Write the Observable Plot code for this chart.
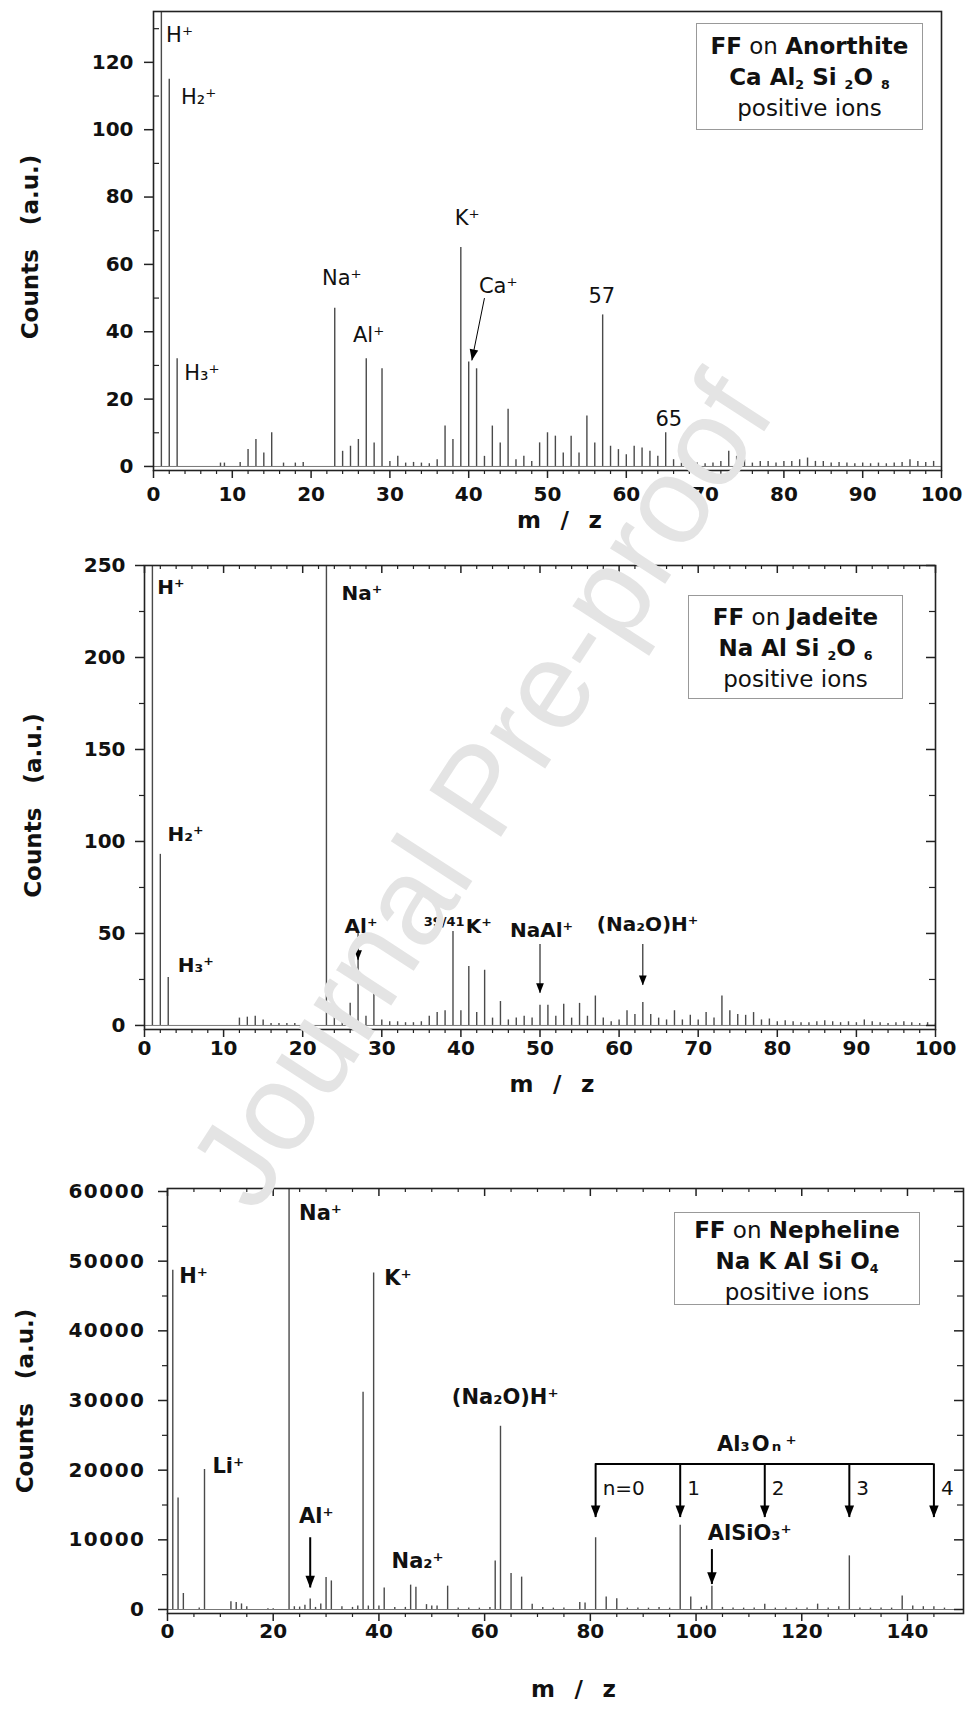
<!DOCTYPE html>
<html>
<head>
<meta charset="utf-8">
<script src="https://cdn.jsdelivr.net/npm/d3@7"></script>
<script src="https://cdn.jsdelivr.net/npm/@observablehq/plot@0.6"></script>
<style>
  body { margin: 0; background: #fff; }
  #wrap { position: relative; width: 966px; height: 1720px; overflow: hidden; background: #fff; font-family: "DejaVu Sans", sans-serif; color: #111; }
  .lg { position: absolute; box-sizing: border-box; border: 1.5px solid #999; text-align: center; font-size: 23px; line-height: 31px; color: #111; }
  .lg sub { font-size: 0.55em; vertical-align: -0.35em; line-height: 0; }
  .wm { position: absolute; white-space: nowrap; font-family: "Liberation Sans", Arial, sans-serif; color: #e4e4e4; text-align: center; pointer-events: none; }
</style>
</head>
<body>
<div id="wrap"></div>
<script>
// ---------------- DATA ----------------
// Panel 1 : FF on Anorthite (positive ions)
const anorthiteMz = [1, 2, 3, 8.5, 9, 11, 12, 13, 14, 15, 16.5, 18, 19,
  23, 24, 25, 26, 27, 28, 29, 30, 31, 32, 33, 34, 35, 36, 37, 38, 39, 40,
  41, 42, 43, 44, 45, 46, 47, 48, 49, 50, 51, 52, 53, 54, 55, 56, 57, 58, 59, 60,
  61, 62, 63, 64, 65, 66, 67, 68, 69, 70, 71, 72, 73, 74, 75, 76, 77, 78, 79, 80,
  81, 82, 83, 84, 85, 86, 87, 88, 89, 90, 91, 92, 93, 94, 95, 96, 97, 98, 99];
const anorthiteCounts = [160, 115, 32, 1, 1, 1.2, 5, 8, 4, 10, 1, 1, 1.2,
  47, 4.5, 6, 8, 32, 7, 29, 1.5, 3, 1, 1.2, 1, 0.8, 2, 12, 8, 65, 31,
  29, 3, 12, 7, 17, 2, 3, 1.5, 7, 10, 9, 4, 9, 4, 15, 7, 45, 6, 5, 3.5,
  6, 5.5, 4.5, 3, 10, 2, 1, 0.8, 1, 0.8, 1, 1.5, 4.5, 3, 2, 1, 1.5, 1.5, 1, 1.5,
  1.5, 2, 2.5, 1.5, 1.5, 1, 1.2, 1, 0.8, 1, 0.8, 1, 0.8, 1, 1.2, 2, 1.5, 1.2, 1.5];

// Panel 2 : FF on Jadeite (positive ions)
const jadeiteMz = [1, 2, 3, 12, 13, 14, 15, 16, 17, 18, 19, 20,
  23, 24, 25, 26, 27, 28, 29, 30, 31, 32, 33, 34, 35, 36, 37, 38, 39, 40,
  41, 42, 43, 44, 45, 46, 47, 48, 49, 50, 51, 52, 53, 54, 55, 56, 57, 58, 59, 60,
  61, 62, 63, 64, 65, 66, 67, 68, 69, 70, 71, 72, 73, 74, 75, 76, 77, 78, 79, 80,
  81, 82, 83, 84, 85, 86, 87, 88, 89, 90, 91, 92, 93, 94, 95, 96, 97, 98, 99, 100];
const jadeiteCounts = [400, 93, 26, 4, 4.5, 5, 3, 1, 1, 1, 1, 1,
  400, 6, 5, 12, 50, 5, 20, 3, 2, 2, 1.5, 1.5, 2, 5, 7, 8, 51, 8,
  32, 7, 30, 4, 13, 3, 4, 5, 4, 11, 11, 5, 11.5, 4, 12, 5, 16, 4, 2, 3,
  8, 6, 12.5, 6, 4, 3, 8, 3, 5.5, 3, 7, 4, 16, 8, 6, 5.5, 7, 3, 3.5, 2,
  2.5, 2, 1.5, 1.5, 2, 2.5, 2, 1.5, 2, 1.5, 3, 2, 1.5, 1, 1.5, 2, 1.5, 1, 1.5, 1];

// Panel 3 : FF on Nepheline (positive ions)
const nephelineMz = [1, 2, 3, 6, 7,
  12, 13, 14, 15, 19, 20,
  23, 24, 25, 26, 27, 28, 29, 30, 31,
  33, 35, 36, 37, 38, 39, 40, 41,
  43, 45, 46, 47, 49, 50, 51, 53,
  55, 57, 59, 61, 62, 63, 65, 67, 69,
  71, 73, 75, 78, 79, 81, 83, 85,
  87, 89, 91, 93, 95, 97, 99,
  101, 102, 103, 105, 107, 109, 111, 113,
  115, 117, 119, 121, 123, 125, 127, 129,
  131, 133, 135, 137, 139, 141, 143, 145, 147];
const nephelineCounts = [48700, 16000, 2300, 200, 20100,
  1100, 1000, 800, 400, 100, 100,
  90000, 400, 350, 600, 1500, 300, 800, 4600, 4100,
  400, 300, 500, 31200, 500, 48300, 500, 3100,
  300, 300, 3500, 3200, 700, 500, 500, 3350,
  200, 200, 200, 300, 6950, 26300, 5150, 4650, 770,
  300, 200, 200, 1000, 930, 10300, 1800, 1540,
  200, 200, 200, 300, 200, 12100, 1800,
  300, 500, 3350, 300, 200, 200, 200, 770,
  200, 200, 200, 200, 770, 200, 400, 7700,
  200, 200, 200, 200, 1950, 500, 400, 400, 200];

// Tick values
const xTicks100 = [0, 10, 20, 30, 40, 50, 60, 70, 80, 90, 100];
const yTicksAnorthite = [0, 20, 40, 60, 80, 100, 120];
const yTicksJadeite = [0, 50, 100, 150, 200, 250];
const xTicksNepheline = [0, 20, 40, 60, 80, 100, 120, 140];
const yTicksNepheline = [0, 10000, 20000, 30000, 40000, 50000, 60000];

// Annotations (positions in data units)
const anorthiteLabels = [
  {mz: 1.6, y: 128, t: "H⁺", anchor: "start"},
  {mz: 3.5, y: 109.6, t: "H₂⁺", anchor: "start"},
  {mz: 3.9, y: 27.8, t: "H₃⁺", anchor: "start"},
  {mz: 23.9, y: 55.8, t: "Na⁺", anchor: "middle"},
  {mz: 27.3, y: 38.9, t: "Al⁺", anchor: "middle"},
  {mz: 39.8, y: 73.7, t: "K⁺", anchor: "middle"},
  {mz: 41.3, y: 53.6, t: "Ca⁺", anchor: "start"},
  {mz: 56.9, y: 50.5, t: "57", anchor: "middle"},
  {mz: 65.4, y: 14, t: "65", anchor: "middle"}
];
const anorthiteArrows = [{x1: 42.0, y1: 50.0, x2: 40.4, y2: 31.5}];

const jadeiteLabels = [
  {mz: 1.6, y: 238, t: "H⁺", anchor: "start"},
  {mz: 24.9, y: 234.5, t: "Na⁺", anchor: "start"},
  {mz: 2.9, y: 103.6, t: "H₂⁺", anchor: "start"},
  {mz: 4.2, y: 32.7, t: "H₃⁺", anchor: "start"},
  {mz: 25.3, y: 53.5, t: "Al⁺", anchor: "start"},
  {mz: 40.6, y: 53.5, t: "K⁺", anchor: "start"},
  {mz: 50.2, y: 51.7, t: "NaAl⁺", anchor: "middle"},
  {mz: 63.6, y: 54.7, t: "(Na₂O)H⁺", anchor: "middle"}
];
const jadeiteIsotope = [{mz: 40.6, y: 56.5, t: "39/41"}];
const jadeiteArrows = [
  {mz: 27, from: 48, to: 35.5},
  {mz: 50, from: 44, to: 17.5},
  {mz: 63, from: 44, to: 21.8}
];

const nephelineLabels = [
  {mz: 24.9, y: 56900, t: "Na⁺", anchor: "start"},
  {mz: 2.2, y: 47900, t: "H⁺", anchor: "start"},
  {mz: 41, y: 47600, t: "K⁺", anchor: "start"},
  {mz: 8.5, y: 20600, t: "Li⁺", anchor: "start"},
  {mz: 24.9, y: 13400, t: "Al⁺", anchor: "start"},
  {mz: 42.4, y: 6950, t: "Na₂⁺", anchor: "start"},
  {mz: 53.8, y: 30400, t: "(Na₂O)H⁺", anchor: "start"},
  {mz: 102.2, y: 10900, t: "AlSiO₃⁺", anchor: "start"},
  {mz: 111.5, y: 23700, t: "Al₃\u200aO\u200aₙ\u2009⁺", anchor: "middle"}
];
const nephelineArrows = [
  {mz: 27, from: 10300, to: 3100},
  {mz: 103, from: 8600, to: 3600}
];
const al3onMz = [81, 97, 113, 129, 145];
const al3onN = ["n=0", "1", "2", "3", "4"];
const al3onBracket = {y: 20900, arrowTip: 13200, labelY: 17400};

// ---------------- DRAWING ----------------
const W = 966;
const FONT = "DejaVu Sans, sans-serif";
const TK = "#222";

const downTri = {
  draw(ctx, size) {
    const k = Math.sqrt(size / 50.27);
    const w = 4.3 * k, h = 11 * k;
    ctx.moveTo(0, 0); ctx.lineTo(-w, -h); ctx.lineTo(w, -h); ctx.closePath();
  }
};

function panel(cfg) {
  const innerW = W - cfg.mL - cfg.mR;
  const innerH = cfg.height - cfg.mT - cfg.mB;
  const spec = cfg.mz.map((m, i) => ({mz: m, h: cfg.counts[i]}));
  const marks = [
    Plot.ruleY([0], {stroke: "#777", strokeWidth: 1}),
    Plot.ruleX(spec, {x: "mz", y1: 0, y2: "h", stroke: "#4a4a4a", strokeWidth: 1.4, clip: true}),
    Plot.frame({stroke: TK, strokeWidth: 1.6}),
    Plot.ruleX(cfg.xMajor, {x: d => d, insetTop: innerH, insetBottom: -8, stroke: TK, strokeWidth: 1.5}),
    Plot.ruleX(cfg.xMinor, {x: d => d, insetTop: innerH, insetBottom: -4, stroke: TK, strokeWidth: 1.2}),
    Plot.ruleY(cfg.yMajor, {y: d => d, insetLeft: -9, insetRight: innerW, stroke: TK, strokeWidth: 1.5}),
    cfg.yMinorIn
      ? Plot.ruleY(cfg.yMinor, {y: d => d, insetLeft: 0, insetRight: innerW - 6, stroke: TK, strokeWidth: 1.2})
      : Plot.ruleY(cfg.yMinor, {y: d => d, insetLeft: -5, insetRight: innerW, stroke: TK, strokeWidth: 1.2})
  ];
  if (cfg.mirror) {
    marks.push(
      Plot.ruleX(cfg.xMajor, {x: d => d, insetTop: 0, insetBottom: innerH - 8, stroke: TK, strokeWidth: 1.5}),
      Plot.ruleX(cfg.xMinor, {x: d => d, insetTop: 0, insetBottom: innerH - 4, stroke: TK, strokeWidth: 1.2}),
      Plot.ruleY(cfg.yMajor, {y: d => d, insetLeft: innerW - 9, insetRight: 0, stroke: TK, strokeWidth: 1.5}),
      Plot.ruleY(cfg.yMinor, {y: d => d, insetLeft: innerW - 6, insetRight: 0, stroke: TK, strokeWidth: 1.2})
    );
  }
  marks.push(
    Plot.axisX({ticks: cfg.xMajor, tickSize: 0, tickPadding: cfg.xPad, fontSize: 20, fontWeight: "bold", label: null, tickFormat: d => String(d)}),
    Plot.axisY({ticks: cfg.yMajor, tickSize: 0, tickPadding: cfg.yPad, fontSize: 20, fontWeight: "bold", label: null, tickFormat: d => String(d)}),
    Plot.text(["Counts\u00a0\u00a0\u00a0(a.u.)"], {text: d => d, frameAnchor: "left", textAnchor: "middle", lineAnchor: "middle", rotate: -90, dx: cfg.cx - cfg.mL, dy: cfg.cyOff || 0, fontSize: 23, fontWeight: "bold"}),
    Plot.text(["m\u2002\u00a0/\u2002\u00a0z"], {text: d => d, frameAnchor: "bottom", dy: cfg.mzDy, dx: cfg.mzDx, fontSize: 23, fontWeight: "bold"}),
    ...cfg.extra
  );
  const svg = Plot.plot({
    width: W, height: cfg.height,
    marginTop: cfg.mT, marginBottom: cfg.mB, marginLeft: cfg.mL, marginRight: cfg.mR,
    x: {domain: cfg.xDomain},
    y: {domain: cfg.yDomain},
    style: {fontFamily: FONT, color: "#111", background: "none", overflow: "visible"},
    marks
  });
  svg.style.position = "absolute";
  svg.style.left = "0px";
  svg.style.top = cfg.top + "px";
  if (cfg.yLetterSpacing) {
    svg.querySelectorAll('g[aria-label="y-axis tick label"] text').forEach(t => t.style.letterSpacing = cfg.yLetterSpacing);
  }
  return svg;
}

function labelMarks(list, weight, size) {
  return ["start", "middle"].map(a =>
    Plot.text(list.filter(d => d.anchor === a), {x: "mz", y: "y", text: "t", textAnchor: a, fontSize: size, fontWeight: weight, fill: "#111"})
  );
}
function arrowMarks(list, sw, r) {
  return [
    Plot.ruleX(list, {x: "mz", y1: "from", y2: "to", stroke: "#000", strokeWidth: sw}),
    Plot.dot(list, {x: "mz", y: "to", symbol: downTri, r, fill: "#000", stroke: "none"})
  ];
}

const wrap = document.getElementById("wrap");

// Panel 1
wrap.appendChild(panel({
  top: 0, height: 530, mT: 11, mB: 60, mL: 153, mR: 25,
  xDomain: [0, 100], yDomain: [-1.2, 135.1],
  mz: anorthiteMz, counts: anorthiteCounts,
  xMajor: xTicks100, xMinor: d3.range(2, 100, 2).filter(v => v % 10 !== 0),
  yMajor: yTicksAnorthite, yMinor: [10, 30, 50, 70, 90, 110, 130], yMinorIn: true,
  mirror: false, xPad: 16, yPad: 20, cx: 30, cyOff: 6, mzDy: 57, mzDx: 12,
  extra: [
    ...labelMarks(anorthiteLabels, "normal", 21),
    Plot.link(anorthiteArrows, {x1: "x1", y1: "y1", x2: "x2", y2: "y2", stroke: "#000", strokeWidth: 1}),
    Plot.dot(anorthiteArrows, {x: "x2", y: "y2", symbol: downTri, r: 4, rotate: 11, fill: "#000", stroke: "none"})
  ]
}));

// Panel 2
wrap.appendChild(panel({
  top: 540, height: 560, mT: 25, mB: 71, mL: 144, mR: 31,
  xDomain: [0, 100], yDomain: [-2.2, 250],
  mz: jadeiteMz, counts: jadeiteCounts,
  xMajor: xTicks100, xMinor: d3.range(2, 100, 2).filter(v => v % 10 !== 0),
  yMajor: yTicksJadeite, yMinor: [25, 75, 125, 175, 225],
  mirror: true, xPad: 11, yPad: 19, cx: 33, cyOff: 8, mzDy: 62, mzDx: 12,
  extra: [
    ...labelMarks(jadeiteLabels, "bold", 20),
    Plot.text(jadeiteIsotope, {x: "mz", y: "y", text: "t", textAnchor: "end", fontSize: 13, fontWeight: "bold", dx: -1}),
    ...arrowMarks(jadeiteArrows, 1, 3.6)
  ]
}));

// Panel 3
const al3onData = al3onMz.map((m, i) => ({mz: m, from: al3onBracket.y, to: al3onBracket.arrowTip, n: al3onN[i], ly: al3onBracket.labelY}));
wrap.appendChild(panel({
  top: 1110, height: 610, mT: 78, mB: 107, mL: 167, mR: 3,
  xDomain: [0, 150.6], yDomain: [-574, 60431],
  mz: nephelineMz, counts: nephelineCounts,
  xMajor: xTicksNepheline, xMinor: d3.range(5, 150, 5).filter(v => v % 20 !== 0),
  yMajor: yTicksNepheline, yMinor: [5000, 15000, 25000, 35000, 45000, 55000],
  mirror: true, xPad: 10, yPad: 22, cx: 25, cyOff: 0, mzDy: 83, mzDx: 8, yLetterSpacing: "1.5px",
  extra: [
    ...labelMarks(nephelineLabels, "bold", 21),
    ...arrowMarks(nephelineArrows, 2, 4.4),
    Plot.ruleY([al3onBracket], {y: "y", x1: al3onMz[0], x2: al3onMz[al3onMz.length - 1], stroke: "#000", strokeWidth: 2}),
    ...arrowMarks(al3onData, 2, 4.4),
    Plot.text(al3onData, {x: "mz", y: "ly", text: "n", textAnchor: "start", dx: 7, fontSize: 20, fill: "#111"})
  ]
}));

// Legends
function legend(left, top, w, h, pad, lines) {
  const d = document.createElement("div");
  d.className = "lg";
  d.style.left = left + "px"; d.style.top = top + "px";
  d.style.width = w + "px"; d.style.height = h + "px";
  d.style.paddingTop = pad + "px";
  d.innerHTML = lines.map(l => `<div>${l}</div>`).join("");
  wrap.appendChild(d);
}
const legendAnorthite = ["<b>FF</b> on <b>Anorthite</b>", "<b>Ca Al<sub>2</sub> Si <sub>2</sub>O <sub>8</sub></b>", "positive ions"];
const legendJadeite = ["<b>FF</b> on <b>Jadeite</b>", "<b>Na Al Si <sub>2</sub>O <sub>6</sub></b>", "positive ions"];
const legendNepheline = ["<b>FF</b> on <b>Nepheline</b>", "<b>Na K Al Si O<sub>4</sub></b>", "positive ions"];
legend(696, 23, 227, 107, 7, legendAnorthite);
legend(688, 595, 215, 104, 6, legendJadeite);
legend(674, 1212, 246, 93, 2, legendNepheline);

// Watermark
const wm = document.createElement("div");
wm.className = "wm";
wm.textContent = "Journal Pre-proof";
const wmSize = 124, wmW = 1000;
wm.style.fontSize = wmSize + "px";
wm.style.lineHeight = wmSize + "px";
wm.style.width = wmW + "px";
wm.style.left = (480 - wmW / 2) + "px";
wm.style.top = (790 - wmSize / 2) + "px";
wm.style.transform = "rotate(-57deg)";
wrap.appendChild(wm);
</script>
</body>
</html>
